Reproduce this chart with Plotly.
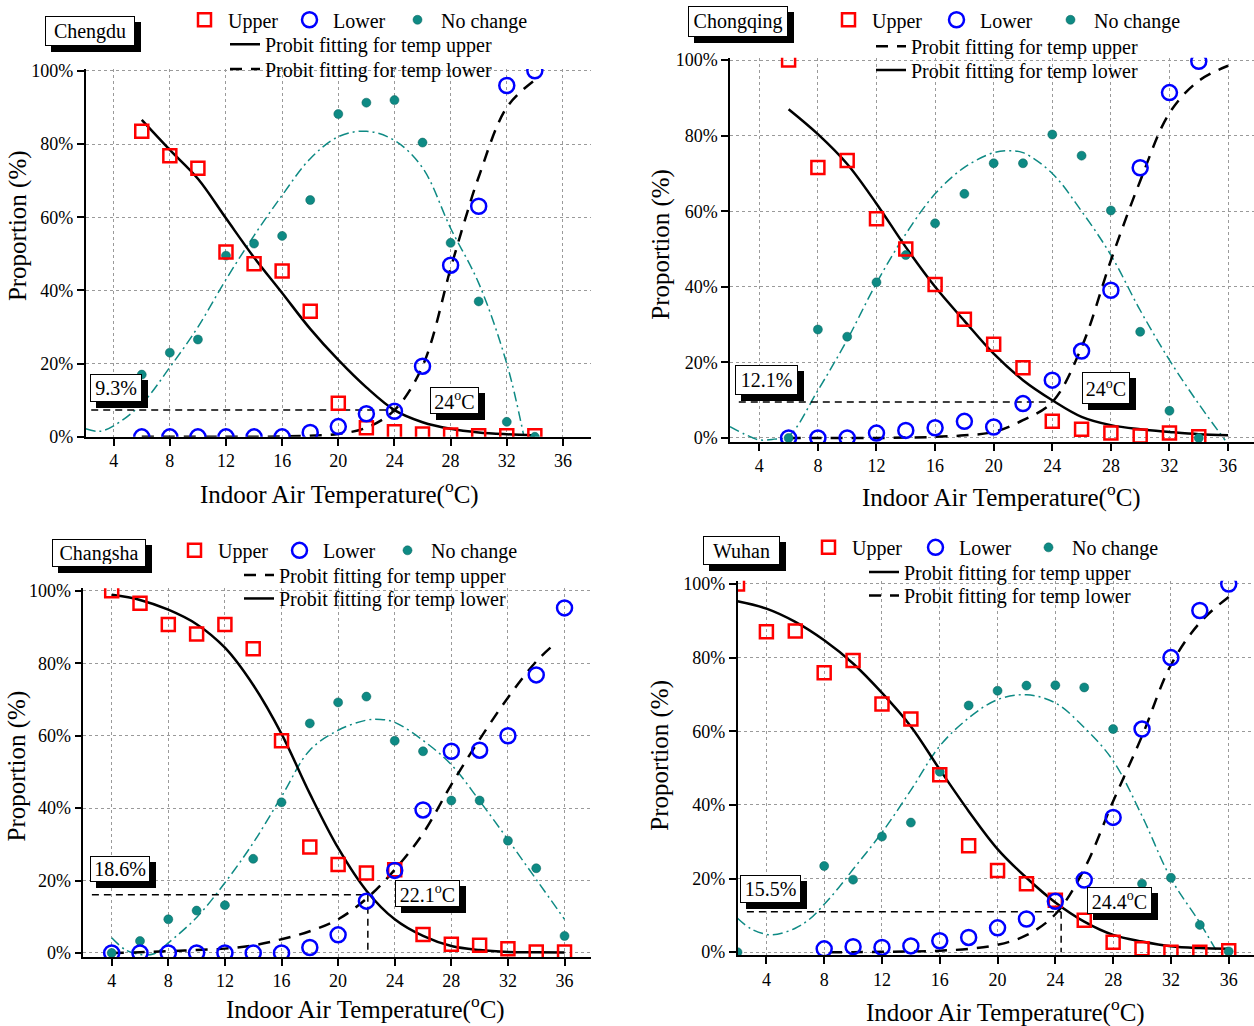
import plotly.graph_objects as go

W, H = 1254, 1026
FONT = "Liberation Serif, Times New Roman, serif"
RED = "#ff0000"
BLUE = "#0000ff"
TEAL = "#0e8a84"

# ---------------- DATA (%) ----------------
# Chengdu
cd_temp = [6, 8, 10, 12, 14, 16, 18, 20, 22, 24, 26, 28, 30, 32, 34]
cd_upper = [83.5, 76.8, 73.4, 50.5, 47.3, 45.3, 34.3, 9.2, 2.5, 1.4, 0.8, 0.5, 0.3, 0.3, 0.3]
cd_lower = [0, 0, 0, 0, 0, 0, 1.2, 2.8, 6.3, 7.0, 19.3, 46.9, 63.0, 96.0, 100.0]
cd_nochange = [17.0, 23.0, 26.6, 49.5, 52.8, 54.9, 64.7, 88.2, 91.3, 92.0, 80.4, 53.0, 37.0, 4.1, 0.0]
cd_fit_upper_t = [6, 8, 10, 12, 14, 16, 18, 20, 22, 24, 26, 28, 30, 32, 34]
cd_fit_upper = [86.6, 78.4, 70.5, 59.7, 49.0, 39.3, 29.5, 21.0, 13.5, 7.3, 4.0, 2.2, 1.2, 0.7, 0.4]
cd_fit_lower_t = [6, 8, 10, 12, 14, 16, 18, 20, 22, 24, 26, 28, 29, 30, 32, 34]
cd_fit_lower = [0, 0, 0, 0, 0, 0.1, 0.3, 0.8, 2.5, 7.3, 19.3, 46.0, 59.0, 71.0, 90.0, 97.5]
cd_nc_fit_t = [2, 3, 4, 6, 8, 10, 12, 14, 16, 18, 20, 22, 24, 26, 28, 30, 32, 33.2]
cd_nc_fit = [2.2, 1.5, 3.0, 9.0, 19.0, 30.0, 43.0, 55.0, 66.0, 76.0, 82.0, 83.5, 81.0, 73.5, 57.0, 42.0, 20.0, 0.5]
cd_ref_pct, cd_ref_temp = 7.3, 24.0
cd_labels = ["9.3%", "24<sup>o</sup>C"]

# Chongqing
cq_temp = [6, 8, 10, 12, 14, 16, 18, 20, 22, 24, 26, 28, 30, 32, 34]
cq_upper = [100.0, 71.6, 73.4, 58.0, 50.0, 40.6, 31.4, 24.8, 18.6, 4.4, 2.3, 1.3, 0.5, 1.3, 0.3]
cq_lower = [0, 0, 0, 1.3, 2.0, 2.7, 4.4, 2.9, 9.1, 15.3, 23.0, 39.1, 71.5, 91.4, 99.7]
cq_nochange = [0, 28.7, 26.8, 41.2, 48.4, 56.8, 64.6, 72.7, 72.7, 80.3, 74.7, 60.2, 28.1, 7.2, 0]
cq_fit_upper_t = [6, 8, 10, 12, 14, 16, 18, 20, 22, 24, 26, 28, 30, 32, 34, 36]
cq_fit_upper = [0, 0, 0, 0, 0.1, 0.3, 0.7, 1.6, 4.7, 9.5, 24.0, 47.0, 68.0, 86.0, 94.5, 98.5]
cq_fit_lower_t = [6, 8, 10, 12, 14, 16, 18, 20, 22, 24, 26, 28, 30, 32, 34, 36]
cq_fit_lower = [87.0, 80.4, 72.5, 62.0, 50.5, 40.0, 31.0, 22.3, 15.3, 10.0, 5.6, 3.4, 2.3, 1.6, 1.0, 0.7]
cq_nc_fit_t = [2, 3, 4, 5, 6, 8, 10, 12, 14, 16, 18, 20, 21, 22, 24, 26, 28, 30, 32, 34, 35.8]
cq_nc_fit = [3.0, 1.0, -0.5, -0.3, 0.5, 12.6, 26.0, 41.0, 54.0, 64.6, 71.6, 75.5, 76.0, 75.5, 70.0, 60.0, 48.4, 33.8, 20.6, 9.0, -0.6]
cq_ref_pct, cq_ref_temp = 9.5, 24.0
cq_labels = ["12.1%", "24<sup>o</sup>C"]

# Changsha
cs_temp = [4, 6, 8, 10, 12, 14, 16, 18, 20, 22, 24, 26, 28, 30, 32, 34, 36]
cs_upper = [100.0, 96.6, 90.7, 88.1, 90.7, 84.0, 58.6, 29.3, 24.4, 22.1, 23.0, 5.1, 2.4, 2.1, 1.2, 0.3, 0.3]
cs_lower = [0, 0, 0, 0, 0, 0, 0, 1.5, 5.0, 14.3, 22.8, 39.5, 55.7, 56.0, 60.0, 76.8, 95.3]
cs_nochange = [0, 3.3, 9.3, 11.7, 13.2, 26.0, 41.6, 63.4, 69.2, 70.8, 58.6, 55.7, 42.1, 42.1, 31.0, 23.4, 4.7]
cs_fit_upper_t = [4, 6, 8, 10, 12, 14, 16, 18, 20, 22, 24, 26, 28, 30, 32, 34, 35.5]
cs_fit_upper = [0, 0.2, 0.5, 0.8, 1.2, 2.1, 3.8, 6.0, 9.3, 15.0, 23.0, 33.0, 46.5, 59.0, 70.5, 80.5, 86.0]
cs_fit_lower_t = [4, 6, 8, 10, 12, 14, 16, 18, 20, 22, 24, 26, 28, 30, 32, 34, 36]
cs_fit_lower = [98.9, 97.5, 94.8, 90.8, 84.3, 74.0, 60.5, 44.0, 29.0, 17.2, 9.3, 4.7, 1.9, 0.8, 0.3, 0.2, 0.1]
cs_nc_fit_t = [4, 5, 6, 7, 8, 10, 12, 14, 16, 18, 20, 22, 23, 24, 26, 28, 30, 32, 34, 36]
cs_nc_fit = [4.2, 0.8, -0.4, -0.2, 2.8, 9.8, 19.4, 30.4, 43.2, 56.0, 61.5, 64.3, 64.5, 63.7, 58.7, 52.0, 42.0, 31.3, 20.3, 9.3]
cs_ref_pct, cs_ref_temp = 16.1, 22.1
cs_labels = ["18.6%", "22.1<sup>o</sup>C"]

# Wuhan
wh_temp = [2, 4, 6, 8, 10, 12, 14, 16, 18, 20, 22, 24, 26, 28, 30, 32, 34, 36]
wh_upper = [100.0, 87.0, 87.2, 75.9, 79.2, 67.4, 63.3, 48.2, 28.9, 22.2, 18.6, 14.1, 8.7, 2.7, 0.9, 0, 0, 0.4]
wh_lower = [None, None, None, 0.9, 1.5, 1.3, 1.7, 3.1, 4.0, 6.6, 9.0, 13.8, 19.6, 36.6, 60.6, 80.0, 92.8, 100.0]
wh_nochange = [0, None, None, 23.4, 19.7, 31.4, 35.2, 49.0, 67.0, 71.0, 72.4, 72.5, 71.9, 60.6, 18.6, 20.2, 7.4, 0.2]
wh_fit_upper_t = [2, 4, 6, 8, 10, 12, 14, 16, 18, 20, 22, 24, 26, 28, 30, 32, 34, 36]
wh_fit_upper = [95.3, 93.3, 89.7, 84.7, 78.4, 70.4, 61.3, 49.6, 38.3, 28.0, 20.2, 13.5, 8.3, 4.7, 2.9, 1.6, 1.1, 0.9]
wh_fit_lower_t = [8.4, 10, 12, 14, 16, 18, 20, 22, 24, 26, 28, 30, 32, 34, 36]
wh_fit_lower = [0, 0, 0.1, 0.2, 0.4, 0.9, 2.0, 4.6, 10.3, 22.6, 41.0, 58.7, 78.0, 89.5, 96.5]
wh_nc_fit_t = [2, 3, 4.4, 6, 7, 8, 9, 10, 12, 14, 16, 18, 20, 22, 24, 26, 28, 30, 32, 34, 35.2]
wh_nc_fit = [9.2, 6.2, 4.7, 6.5, 9.0, 13.0, 17.5, 22.5, 32.5, 44.0, 56.0, 63.6, 68.6, 69.9, 67.7, 61.0, 52.0, 37.0, 20.0, 8.0, 0.0]
wh_ref_pct, wh_ref_temp = 11.0, 24.4
wh_labels = ["15.5%", "24.4<sup>o</sup>C"]

x_tick_step = 4
y_tick_step = 20

# ---------------- LAYOUT SPEC (pixel geometry) ----------------
panels = [
    dict(name="Chengdu", temp=cd_temp, up=cd_upper, lo=cd_lower, nc=cd_nochange,
         fu_t=cd_fit_upper_t, fu=cd_fit_upper, fl_t=cd_fit_lower_t, fl=cd_fit_lower,
         nct=cd_nc_fit_t, ncf=cd_nc_fit, ref=(cd_ref_temp, cd_ref_pct), labels=cd_labels,
         upper_dash=False, vline=False,
         px=(85.6, 591.0, 62.1, 436.5), xr=[2, 38], yr=[0, 100.5],
         title_box=(45, 8, 135, 38), box1=(90, 373, 142, 401), box2=(430, 386, 479, 413),
         ref_x0=2.4,
         leg_row=[(228, 12), (333, 12), (441, 12)], leg_lines=[(265, 37), (265, 62)],
         xtitle=(339, 493), ytitle=(18, 222)),
    dict(name="Chongqing", temp=cq_temp, up=cq_upper, lo=cq_lower, nc=cq_nochange,
         fu_t=cq_fit_upper_t, fu=cq_fit_upper, fl_t=cq_fit_lower_t, fl=cq_fit_lower,
         nct=cq_nc_fit_t, ncf=cq_nc_fit, ref=(cq_ref_temp, cq_ref_pct), labels=cq_labels,
         upper_dash=True, vline=False,
         px=(730.0, 1254.0, 50.7, 441.7), xr=[2, 37.77], yr=[-1.05, 100.6],
         title_box=(688, -2, 788, 29), box1=(735, 363, 798, 393), box2=(1082, 370, 1130, 402),
         ref_x0=2.6,
         leg_row=[(872, 12), (980, 12), (1094, 12)], leg_lines=[(911, 39), (911, 63)],
         xtitle=(1002, 496), ytitle=(661, 241)),
    dict(name="Changsha", temp=cs_temp, up=cs_upper, lo=cs_lower, nc=cs_nochange,
         fu_t=cs_fit_upper_t, fu=cs_fit_upper, fl_t=cs_fit_lower_t, fl=cs_fit_lower,
         nct=cs_nc_fit_t, ncf=cs_nc_fit, ref=(cs_ref_temp, cs_ref_pct), labels=cs_labels,
         upper_dash=True, vline=True,
         px=(83.4, 591.0, 590.7, 965.9), xr=[2, 37.87], yr=[-1.1, 100.7],
         title_box=(52, 540, 146, 568), box1=(90, 863, 150, 889), box2=(395, 888, 460, 915),
         ref_x0=2.6,
         leg_row=[(218, 552), (323, 552), (431, 552)], leg_lines=[(279, 577), (279, 601)],
         xtitle=(365, 1017), ytitle=(17, 772)),
    dict(name="Wuhan", temp=wh_temp, up=wh_upper, lo=wh_lower, nc=wh_nochange,
         fu_t=wh_fit_upper_t, fu=wh_fit_upper, fl_t=wh_fit_lower_t, fl=wh_fit_lower,
         nct=wh_nc_fit_t, ncf=wh_nc_fit, ref=(wh_ref_temp, wh_ref_pct), labels=wh_labels,
         upper_dash=False, vline=True,
         px=(737.5, 1254.0, 582.9, 964.4), xr=[2, 37.75], yr=[-0.9, 100.9],
         title_box=(703, 537, 780, 566), box1=(740, 882, 801, 910), box2=(1087, 895, 1152, 922),
         ref_x0=2.65,
         leg_row=[(852, 549), (959, 549), (1072, 549)], leg_lines=[(904, 574), (904, 598)],
         xtitle=(1005, 1020), ytitle=(660, 761)),
]

fig = go.Figure()
layout = {}
annotations = []
legend_n = [0]


def px2paper(x, y):
    return x / W, 1 - y / H


def new_legend(text_x, y_center, itemwidth):
    legend_n[0] += 1
    n = legend_n[0]
    key = "legend" if n == 1 else f"legend{n}"
    gap = itemwidth + 10
    lx, ly = px2paper(text_x - gap, y_center)
    layout[key] = dict(x=lx, y=ly, xanchor="left", yanchor="middle",
                       bgcolor="rgba(0,0,0,0)", borderwidth=0, itemwidth=itemwidth,
                       font=dict(family=FONT, size=20, color="black"),
                       tracegroupgap=0, orientation="v")
    return key


def boxed(text, box, size, shadow=6):
    x0, y0, x1, y1 = box
    bw, pad = 1, 2
    w = (x1 - x0) - 2 * (bw + pad)
    h = (y1 - y0) - 2 * (bw + pad)
    px_, py_ = px2paper(x0, y0)
    common = dict(xref="paper", yref="paper", x=px_, y=py_, xanchor="left", yanchor="top",
                  text=text, showarrow=False, width=w, height=h, borderpad=pad,
                  borderwidth=bw, align="center", valign="middle")
    annotations.append(dict(common, xshift=shadow, yshift=-shadow, bgcolor="black",
                            bordercolor="black", font=dict(family=FONT, size=size, color="black")))
    annotations.append(dict(common, bgcolor="white", bordercolor="black",
                            font=dict(family=FONT, size=size, color="black")))


for i, p in enumerate(panels):
    k = "" if i == 0 else str(i + 1)
    xa, ya = "x" + k, "y" + k
    x0, x1, ytop, ybot = p["px"]
    layout["xaxis" + k] = dict(
        domain=[x0 / W, x1 / W], range=p["xr"], anchor=ya, tick0=0, dtick=x_tick_step,
        showgrid=True, gridcolor="#9a9a9a", griddash="dot", gridwidth=1, zeroline=False,
        showline=True, linecolor="black", linewidth=1.5, ticks="outside", ticklen=7,
        tickwidth=1.5, tickcolor="black", tickfont=dict(family=FONT, size=18, color="black"))
    layout["yaxis" + k] = dict(
        domain=[1 - ybot / H, 1 - ytop / H], range=p["yr"], anchor=xa, tick0=0, dtick=y_tick_step,
        ticksuffix="%", showgrid=True, gridcolor="#9a9a9a", griddash="dot", gridwidth=1,
        zeroline=False, showline=True, linecolor="black", linewidth=1.5, ticks="outside",
        ticklen=7, tickwidth=1.5, tickcolor="black",
        tickfont=dict(family=FONT, size=18, color="black"))

    # no-change fitted curve (dash-dot)
    fig.add_trace(go.Scatter(x=p["nct"], y=p["ncf"], mode="lines", xaxis=xa, yaxis=ya,
                             line=dict(color=TEAL, width=1.5, dash="10px,4px,2px,4px", shape="spline"),
                             showlegend=False, hoverinfo="skip"))
    # reference dashed lines
    rt, rp = p["ref"]
    fig.add_trace(go.Scatter(x=[p["ref_x0"], rt], y=[rp, rp], mode="lines", xaxis=xa, yaxis=ya,
                             line=dict(color="black", width=1.5, dash="7px,5px"),
                             showlegend=False, hoverinfo="skip"))
    if p["vline"]:
        fig.add_trace(go.Scatter(x=[rt, rt], y=[rp, 0], mode="lines", xaxis=xa, yaxis=ya,
                                 line=dict(color="black", width=1.5, dash="7px,5px"),
                                 showlegend=False, hoverinfo="skip"))

    up_dash = "12px,9px" if p["upper_dash"] else "solid"
    lo_dash = "solid" if p["upper_dash"] else "12px,9px"
    lg_fu = new_legend(p["leg_lines"][0][0], p["leg_lines"][0][1], 30)
    fig.add_trace(go.Scatter(x=p["fu_t"], y=p["fu"], mode="lines", xaxis=xa, yaxis=ya,
                             name="Probit fitting for temp upper", legend=lg_fu,
                             line=dict(color="black", width=2.5, dash=up_dash, shape="spline")))
    lg_fl = new_legend(p["leg_lines"][1][0], p["leg_lines"][1][1], 30)
    fig.add_trace(go.Scatter(x=p["fl_t"], y=p["fl"], mode="lines", xaxis=xa, yaxis=ya,
                             name="Probit fitting for temp lower", legend=lg_fl,
                             line=dict(color="black", width=2.5, dash=lo_dash, shape="spline")))

    lg_nc = new_legend(p["leg_row"][2][0], p["leg_row"][2][1], 37)
    fig.add_trace(go.Scatter(x=p["temp"], y=p["nc"], mode="markers", xaxis=xa, yaxis=ya,
                             name="No change", legend=lg_nc,
                             marker=dict(symbol="circle", size=9, color=TEAL,
                                         line=dict(width=0.5, color="#06605b"))))
    lg_up = new_legend(p["leg_row"][0][0], p["leg_row"][0][1], 37)
    fig.add_trace(go.Scatter(x=p["temp"], y=p["up"], mode="markers", xaxis=xa, yaxis=ya,
                             name="Upper", legend=lg_up,
                             marker=dict(symbol="square-open", size=13, color=RED,
                                         line=dict(width=2.5, color=RED))))
    lg_lo = new_legend(p["leg_row"][1][0], p["leg_row"][1][1], 37)
    fig.add_trace(go.Scatter(x=p["temp"], y=p["lo"], mode="markers", xaxis=xa, yaxis=ya,
                             name="Lower", legend=lg_lo,
                             marker=dict(symbol="circle-open", size=15, color=BLUE,
                                         line=dict(width=2.5, color=BLUE))))

    # text boxes
    boxed(p["name"], p["title_box"], 20, shadow=6)
    boxed(p["labels"][0], p["box1"], 20, shadow=6)
    boxed(p["labels"][1], p["box2"], 20, shadow=6)

    # axis titles
    tx, ty = px2paper(*p["xtitle"])
    annotations.append(dict(xref="paper", yref="paper", x=tx, y=ty, xanchor="center",
                            yanchor="middle", showarrow=False,
                            text="Indoor Air Temperature(<sup>o</sup>C)",
                            font=dict(family=FONT, size=25, color="black")))
    tx, ty = px2paper(*p["ytitle"])
    annotations.append(dict(xref="paper", yref="paper", x=tx, y=ty, xanchor="center",
                            yanchor="middle", showarrow=False, textangle=-90,
                            text="Proportion (%)",
                            font=dict(family=FONT, size=25, color="black")))

layout.update(dict(width=W, height=H, margin=dict(l=0, r=0, t=0, b=0),
                   paper_bgcolor="white", plot_bgcolor="white",
                   font=dict(family=FONT, size=18, color="black"),
                   annotations=annotations))
fig.update_layout(layout)
fig.write_html("out.html", config={"displayModeBar": False},
               post_script="document.body.style.margin='0';document.body.style.padding='0';"
                           "document.body.style.overflow='hidden';")
